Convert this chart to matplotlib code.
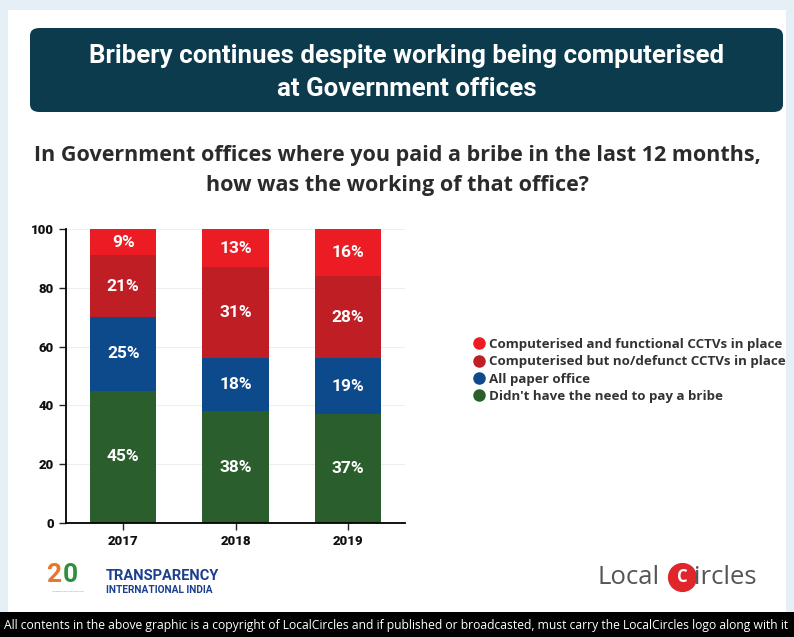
import matplotlib.pyplot as plt
from matplotlib.patches import FancyBboxPatch, Rectangle
from matplotlib.lines import Line2D
import numpy as np

# data
years = ["2017", "2018", "2019"]
no_need = [45, 38, 37]
paper = [25, 18, 19]
comp_no_cctv = [21, 31, 28]
comp_cctv = [9, 13, 16]

series_names = [
    "Computerised and functional CCTVs in place",
    "Computerised but no/defunct CCTVs in place",
    "All paper office",
    "Didn't have the need to pay a bribe",
]
colors = {
    "cctv": "#ec1c24",
    "nocctv": "#bf1e24",
    "paper": "#0d4a8c",
    "noneed": "#2a5e2c",
}

W, H = 794, 637
fig = plt.figure(figsize=(W / 100, H / 100), dpi=100)
fig.patch.set_facecolor("#e4f0f6")

def fx(px):
    return px / W

def fy(py):
    return 1 - py / H

# white card
fig.patches.append(Rectangle((fx(8), fy(612)), fx(778), (612 - 10) / H,
                             transform=fig.transFigure, facecolor="white",
                             edgecolor="none", zorder=-2))

# title box
fig.patches.append(FancyBboxPatch((fx(30), fy(112)), fx(753), (112 - 28) / H,
                                  boxstyle="round,pad=0,rounding_size=0.012",
                                  transform=fig.transFigure, facecolor="#0c3b4d",
                                  edgecolor="none", zorder=-1))
title_font = ["Liberation Sans Narrow", "Roboto"]
fig.text(fx(407), fy(56), "Bribery continues despite working being computerised",
         ha="center", va="center", color="white", fontsize=18.6, fontweight="bold",
         family=title_font)
fig.text(fx(407), fy(89), "at Government offices",
         ha="center", va="center", color="white", fontsize=18.6, fontweight="bold",
         family=title_font)

fig.text(0.5, fy(155), "In Government offices where you paid a bribe in the last 12 months,",
         ha="center", va="center", color="#2b2b2b", fontsize=15.5, fontweight="bold",
         family="Open Sans")
fig.text(0.5, fy(186), "how was the working of that office?",
         ha="center", va="center", color="#2b2b2b", fontsize=15.5, fontweight="bold",
         family="Open Sans")

# chart
ax = fig.add_axes([fx(66), fy(523), fx(405 - 66), (523 - 229) / H])
ax.set_zorder(3)
x = np.arange(len(years))
w = 0.59
stack = [
    (no_need, colors["noneed"]),
    (paper, colors["paper"]),
    (comp_no_cctv, colors["nocctv"]),
    (comp_cctv, colors["cctv"]),
]
bottom = np.zeros(len(years))
for vals, c in stack:
    vals = np.array(vals)
    ax.bar(x, vals, w, bottom=bottom, color=c, zorder=2)
    for xi, b, v in zip(x, bottom, vals):
        ax.text(xi, b + v / 2, f"{v}%", ha="center", va="center", color="white",
                fontsize=12.5, fontweight="bold", family="Roboto", zorder=3)
    bottom += vals

ax.set_xlim(-0.51, 2.51)
ax.set_ylim(0, 100)
ax.set_yticks([0, 20, 40, 60, 80, 100])
ax.set_xticks(x)
ax.set_xticklabels(years)
for lab in ax.get_xticklabels() + ax.get_yticklabels():
    lab.set_fontweight("black")
    lab.set_fontsize(9.5)
    lab.set_family("Roboto")
    lab.set_color("#111111")
ax.tick_params(axis="both", length=5, width=1, color="#222222")
ax.yaxis.grid(True, color="#eeeeee", lw=0.8, zorder=0)
ax.spines["top"].set_visible(False)
ax.spines["right"].set_visible(False)
ax.spines["left"].set_linewidth(1.3)
ax.spines["bottom"].set_linewidth(1.3)
ax.set_facecolor("white")

# legend
handles = [Line2D([], [], marker="o", ls="none", markersize=8, color=c)
           for c in [colors["cctv"], colors["nocctv"], colors["paper"], colors["noneed"]]]
leg = fig.legend(handles, series_names, loc="upper left",
                 bbox_to_anchor=(fx(460), fy(326)), frameon=False,
                 handletextpad=0.3, handlelength=1.0, labelspacing=0.32,
                 prop={"family": "Open Sans", "weight": "bold", "size": 9.6})
for t in leg.get_texts():
    t.set_color("#333333")

# logos (approximated as text)
fig.text(fx(46), fy(575), "2", color="#e8772e", fontsize=19, fontweight="bold",
         va="center", family="Roboto")
fig.text(fx(63), fy(575), "0", color="#2f8f3e", fontsize=19, fontweight="bold",
         va="center", family="Roboto")
fig.text(fx(68), fy(592), "——————", color="#999999", fontsize=4, ha="center",
         va="center", family="DejaVu Sans")
fig.text(fx(106), fy(576), "TRANSPARENCY", color="#1d3f8f", fontsize=10.5,
         fontweight="bold", va="center", family="Roboto")
fig.text(fx(106), fy(590), "INTERNATIONAL INDIA", color="#1d3f8f", fontsize=7.3,
         fontweight="bold", va="center", family="Roboto")

fig.text(fx(598), fy(577), "Local", color="#555555", fontsize=18.5, va="center",
         family="Open Sans")
fig.add_artist(Line2D([fx(682)], [fy(577)], marker="o", markersize=20,
                      color="#e0262b", transform=fig.transFigure))
fig.text(fx(682), fy(577), "C", color="white", fontsize=12, fontweight="bold",
         ha="center", va="center", family="Open Sans")
fig.text(fx(694), fy(577), "ircles", color="#555555", fontsize=18.5, va="center",
         family="Open Sans")

# footer band
fig.patches.append(Rectangle((0, 0), 1, (637 - 612) / H, transform=fig.transFigure,
                             facecolor="black", edgecolor="none"))
fig.text(fx(4), fy(625), "All contents in the above graphic is a copyright of LocalCircles and if "
         "published or broadcasted, must carry the LocalCircles logo along with it",
         color="white", fontsize=8.75, va="center", family=["Liberation Sans Narrow", "Open Sans"])

fig.savefig("out.png", dpi=100, facecolor=fig.get_facecolor())
